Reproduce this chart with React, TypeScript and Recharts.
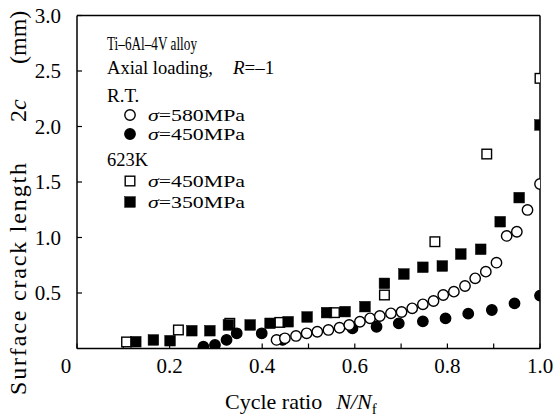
import React from 'react';
import { ScatterChart, Scatter, XAxis, YAxis, ReferenceLine } from 'recharts';

// R.T., sigma = 580 MPa (open circles)
const rt580Ratio = [0.431, 0.449, 0.473, 0.496, 0.519, 0.543, 0.567, 0.588, 0.611, 0.633, 0.654, 0.678, 0.701, 0.724, 0.747, 0.77, 0.791, 0.814, 0.838, 0.86, 0.883, 0.906, 0.928, 0.95, 0.973, 1.0];
const rt580Length = [0.077, 0.092, 0.113, 0.137, 0.151, 0.167, 0.187, 0.212, 0.241, 0.272, 0.293, 0.317, 0.329, 0.362, 0.398, 0.428, 0.482, 0.512, 0.563, 0.632, 0.692, 0.773, 1.014, 1.052, 1.248, 1.482];

// R.T., sigma = 450 MPa (filled circles)
const rt450Ratio = [0.273, 0.298, 0.323, 0.345, 0.399, 0.444, 0.595, 0.647, 0.695, 0.747, 0.796, 0.845, 0.896, 0.945, 1.0];
const rt450Length = [0.016, 0.032, 0.077, 0.137, 0.137, 0.077, 0.182, 0.196, 0.227, 0.245, 0.272, 0.314, 0.347, 0.407, 0.477];

// 623K, sigma = 450 MPa (open squares)
const hot450Ratio = [0.107, 0.219, 0.33, 0.438, 0.556, 0.664, 0.773, 0.885, 1.0];
const hot450Length = [0.059, 0.167, 0.227, 0.235, 0.323, 0.482, 0.962, 1.752, 2.434];

// 623K, sigma = 350 MPa (filled squares)
const hot350Ratio = [0.127, 0.165, 0.201, 0.248, 0.287, 0.327, 0.374, 0.417, 0.456, 0.497, 0.539, 0.579, 0.622, 0.664, 0.706, 0.747, 0.789, 0.829, 0.872, 0.914, 0.955, 1.0];
const hot350Length = [0.061, 0.077, 0.07, 0.16, 0.16, 0.212, 0.212, 0.227, 0.241, 0.284, 0.323, 0.332, 0.377, 0.587, 0.671, 0.732, 0.743, 0.851, 0.894, 1.142, 1.359, 2.014];

const xTicks = [0, 0.1, 0.2, 0.3, 0.4, 0.5, 0.6, 0.7, 0.8, 0.9, 1.0];
const yTicks = [0.5, 1.0, 1.5, 2.0, 2.5, 3.0];

const FONT = '"Liberation Serif", "Times New Roman", serif';

const zip = (xs: number[], ys: number[]) => xs.map((x, i) => ({ x, y: ys[i] }));

type MarkerKind = 'openCircle' | 'filledCircle' | 'openSquare' | 'filledSquare';

const Marker = ({ kind, cx, cy }: { kind: MarkerKind; cx: number; cy: number }) => {
  if (kind === 'openCircle' || kind === 'filledCircle') {
    return (
      <circle cx={cx} cy={cy} r={5.2} fill={kind === 'openCircle' ? '#fff' : '#000'} stroke="#000" strokeWidth={1.4} />
    );
  }
  const s = kind === 'openSquare' ? 9.6 : 10.6;
  return (
    <rect x={cx - s / 2} y={cy - s / 2} width={s} height={s} fill={kind === 'openSquare' ? '#fff' : '#000'} stroke="#000" strokeWidth={kind === 'openSquare' ? 1.4 : 0.5} />
  );
};

const shapeOf = (kind: MarkerKind) => (props: any) => <Marker kind={kind} cx={props.cx} cy={props.cy} />;

const XTick = (props: any) => {
  const { x, y, payload } = props;
  const v = payload.value as number;
  if (Math.round(v * 10) % 2 !== 0) return null;
  const label = v === 0 ? '0' : v.toFixed(1);
  return (
    <text x={v === 0 ? x - 11 : x} y={y + 24} textAnchor="middle" fontFamily={FONT} fontSize={21} fill="#000">
      {label}
    </text>
  );
};

const YTick = (props: any) => {
  const { x, y, payload } = props;
  return (
    <text x={x} y={y + 7} textAnchor="end" fontFamily={FONT} fontSize={21} fill="#000">
      {(payload.value as number).toFixed(1)}
    </text>
  );
};

const legendRows: { kind: MarkerKind; stress: string; y: number }[] = [
  { kind: 'openCircle', stress: '580MPa', y: 115 },
  { kind: 'filledCircle', stress: '450MPa', y: 134 },
  { kind: 'openSquare', stress: '450MPa', y: 181 },
  { kind: 'filledSquare', stress: '350MPa', y: 202 },
];

const Annotations = () => (
  <svg width={554} height={416} style={{ position: 'absolute', left: 0, top: 0, pointerEvents: 'none' }}>
    <g fontFamily={FONT} fontSize={19} fill="#000">
      <text x={107} y={50} textLength={90} lengthAdjust="spacingAndGlyphs">Ti–6Al–4V alloy</text>
      <text x={107} y={74} textLength={106} lengthAdjust="spacingAndGlyphs">Axial loading,</text>
      <text x={233} y={74}>
        <tspan fontStyle="italic">R</tspan>=–1
      </text>
      <text x={107} y={102}>R.T.</text>
      <text x={107} y={166} textLength={41} lengthAdjust="spacingAndGlyphs">623K</text>
      {legendRows.map((r) => (
        <g key={r.y}>
          <Marker kind={r.kind} cx={130} cy={r.y} />
          <text x={148} y={r.y + 6} fontSize={17} textLength={97} lengthAdjust="spacingAndGlyphs">
            <tspan fontStyle="italic">σ</tspan>={r.stress}
          </text>
        </g>
      ))}
    </g>
    <g fontFamily={FONT} fontSize={22} fill="#000">
      <text x={225} y={409}>
        Cycle ratio
        <tspan dx={14} fontStyle="italic">N</tspan>
        <tspan fontStyle="italic">/N</tspan>
        <tspan fontSize={15} dy={5}>f</tspan>
      </text>
      <g transform="rotate(-90)" fontSize={24}>
        <text x={-395} y={26} textLength={232} lengthAdjust="spacing">Surface crack length</text>
        <text x={-122} y={26}>
          2<tspan fontStyle="italic">c</tspan>
        </text>
        <text x={-64} y={26}>(mm)</text>
      </g>
    </g>
  </svg>
);

export default function App() {
  return (
    <div style={{ position: 'absolute', left: 0, top: 0, width: 554, height: 416, background: '#fff' }}>
      <ScatterChart width={554} height={416} margin={{ top: 15.5, right: 14, bottom: 27.5, left: 27 }}>
        <XAxis
          type="number"
          dataKey="x"
          domain={[0, 1]}
          ticks={xTicks}
          allowDataOverflow
          height={40}
          tickSize={-5}
          tickMargin={5}
          axisLine={{ stroke: '#000', strokeWidth: 1.5 }}
          tickLine={{ stroke: '#000', strokeWidth: 1.2 }}
          tick={<XTick />}
          interval={0}
        />
        <YAxis
          type="number"
          dataKey="y"
          domain={[0, 3]}
          ticks={yTicks}
          allowDataOverflow
          width={50}
          tickSize={-5}
          tickMargin={21}
          axisLine={{ stroke: '#000', strokeWidth: 1.5 }}
          tickLine={{ stroke: '#000', strokeWidth: 1.2 }}
          tick={<YTick />}
          interval={0}
        />
        <ReferenceLine y={3} stroke="#000" strokeWidth={1.5} />
        <ReferenceLine x={1} stroke="#000" strokeWidth={1.5} />
        <Scatter name="623K 450MPa" data={zip(hot450Ratio, hot450Length)} shape={shapeOf('openSquare')} isAnimationActive={false} />
        <Scatter name="623K 350MPa" data={zip(hot350Ratio, hot350Length)} shape={shapeOf('filledSquare')} isAnimationActive={false} />
        <Scatter name="R.T. 450MPa" data={zip(rt450Ratio, rt450Length)} shape={shapeOf('filledCircle')} isAnimationActive={false} />
        <Scatter name="R.T. 580MPa" data={zip(rt580Ratio, rt580Length)} shape={shapeOf('openCircle')} isAnimationActive={false} />
      </ScatterChart>
      <Annotations />
    </div>
  );
}
